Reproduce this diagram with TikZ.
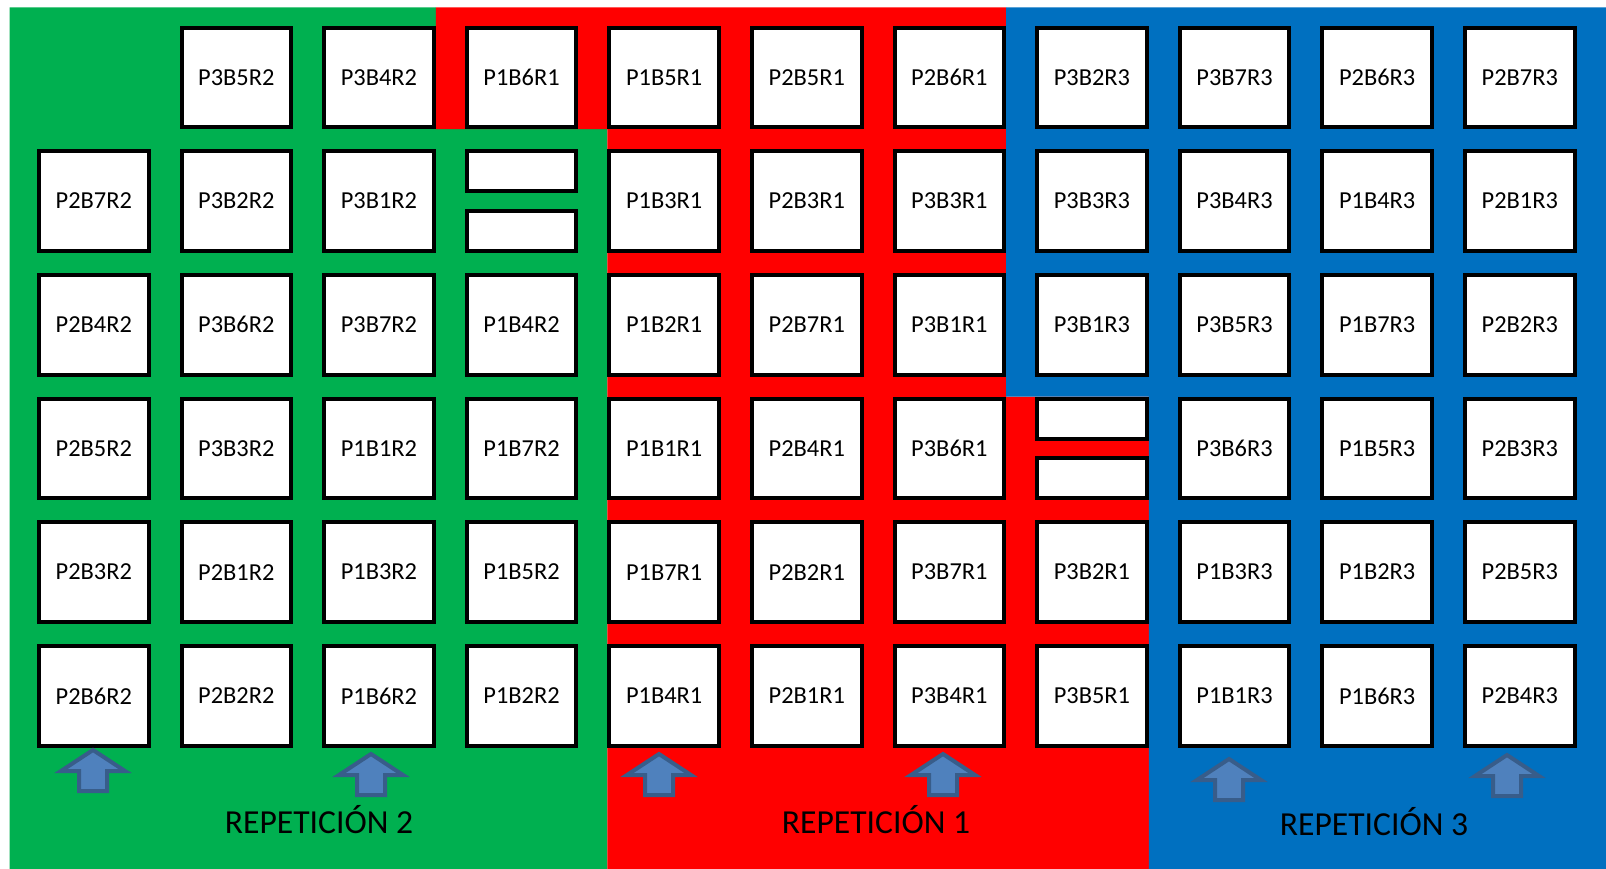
\documentclass[tikz,border=0pt]{standalone}
\usepackage{fontspec}
\setmainfont{Carlito}
\usepackage{xcolor}
\usepackage{tikz}

\definecolor{repgreen}{RGB}{0,176,80}
\definecolor{repred}{RGB}{255,0,0}
\definecolor{repblue}{RGB}{0,112,192}
\definecolor{arrowfill}{RGB}{79,129,189}
\definecolor{arrowline}{RGB}{56,93,138}

\tikzset{
  plot box/.style={draw=black, fill=white, line width=4pt, inner sep=0pt,
    minimum width=109.7pt, minimum height=99.5pt, font=\fontsize{24.4}{26}\selectfont},
  half box/.style={draw=black, fill=white, line width=4pt, inner sep=0pt,
    minimum width=109.7pt, minimum height=40pt},
  up arrow/.style={fill=arrowfill, draw=arrowline, line width=4pt, line join=miter},
  rep label/.style={font=\fontsize{33.6}{36}\selectfont, anchor=base}
}

\begin{document}
\begin{tikzpicture}[x=1pt, y=-1pt]
\useasboundingbox (0,0) rectangle (1606,869);
% the three repetitions
\fill[repgreen] (9.5,7.5) -- (435.8,7.5) -- (435.8,129.1) -- (607.3,129.1) -- (607.3,869) -- (9.5,869) -- cycle;
\fill[repred] (435.8,7.5) -- (1006.2,7.5) -- (1006.2,396.7) -- (1148.8,396.7) -- (1148.8,869) -- (607.3,869) -- (607.3,129.1) -- (435.8,129.1) -- cycle;
\fill[repblue] (1006.2,7.5) -- (1606,7.5) -- (1606,869) -- (1148.8,869) -- (1148.8,396.7) -- (1006.2,396.7) -- cycle;

% plots, row by row
\foreach \c/\lbl in {1/P3B5R2,2/P3B4R2,3/P1B6R1,4/P1B5R1,5/P2B5R1,6/P2B6R1,7/P3B2R3,8/P3B7R3,9/P2B6R3,10/P2B7R3}
  \node[plot box] (b-0-\c) at ({93.75+142.6*\c},77.35) {\lbl};
\foreach \c/\lbl in {0/P2B7R2,1/P3B2R2,2/P3B1R2,4/P1B3R1,5/P2B3R1,6/P3B3R1,7/P3B3R3,8/P3B4R3,9/P1B4R3,10/P2B1R3}
  \node[plot box] (b-1-\c) at ({93.75+142.6*\c},201.05) {\lbl};
\foreach \c/\lbl in {0/P2B4R2,1/P3B6R2,2/P3B7R2,3/P1B4R2,4/P1B2R1,5/P2B7R1,6/P3B1R1,7/P3B1R3,8/P3B5R3,9/P1B7R3,10/P2B2R3}
  \node[plot box] (b-2-\c) at ({93.75+142.6*\c},324.75) {\lbl};
\foreach \c/\lbl in {0/P2B5R2,1/P3B3R2,2/P1B1R2,3/P1B7R2,4/P1B1R1,5/P2B4R1,6/P3B6R1,8/P3B6R3,9/P1B5R3,10/P2B3R3}
  \node[plot box] (b-3-\c) at ({93.75+142.6*\c},448.45) {\lbl};
\foreach \c/\lbl in {0/P2B3R2,1/P2B1R2,2/P1B3R2,3/P1B5R2,4/P1B7R1,5/P2B2R1,6/P3B7R1,7/P3B2R1,8/P1B3R3,9/P1B2R3,10/P2B5R3}
  \node[plot box] (b-4-\c) at ({93.75+142.6*\c},572.15) {\lbl};
\foreach \c/\lbl in {0/P2B6R2,1/P2B2R2,2/P1B6R2,3/P1B2R2,4/P1B4R1,5/P2B1R1,6/P3B4R1,7/P3B5R1,8/P1B1R3,9/P1B6R3,10/P2B4R3}
  \node[plot box] (b-5-\c) at ({93.75+142.6*\c},695.85) {\lbl};

% split plots
\node[half box] (h-1-3a) at (521.55,171.3) {};
\node[half box] (h-1-3b) at (521.55,231.1) {};
\node[half box] (h-3-7a) at (1091.95,418.7) {};
\node[half box] (h-3-7b) at (1091.95,478.2) {};

% entry arrows
\foreach \x/\y in {93/748,371/752,659/752,943/752,1229/757,1507/753}
  \draw[up arrow] (\x,\y+2) -- ++(32,21) -- ++(-18,0) -- ++(0,20) -- ++(-28,0) -- ++(0,-20) -- ++(-18,0) -- cycle;

\node[rep label] (rep2) at (319,833) {REPETICIÓN 2};
\node[rep label] (rep1) at (876,833) {REPETICIÓN 1};
\node[rep label] (rep3) at (1374,835) {REPETICIÓN 3};
\end{tikzpicture}
\end{document}
